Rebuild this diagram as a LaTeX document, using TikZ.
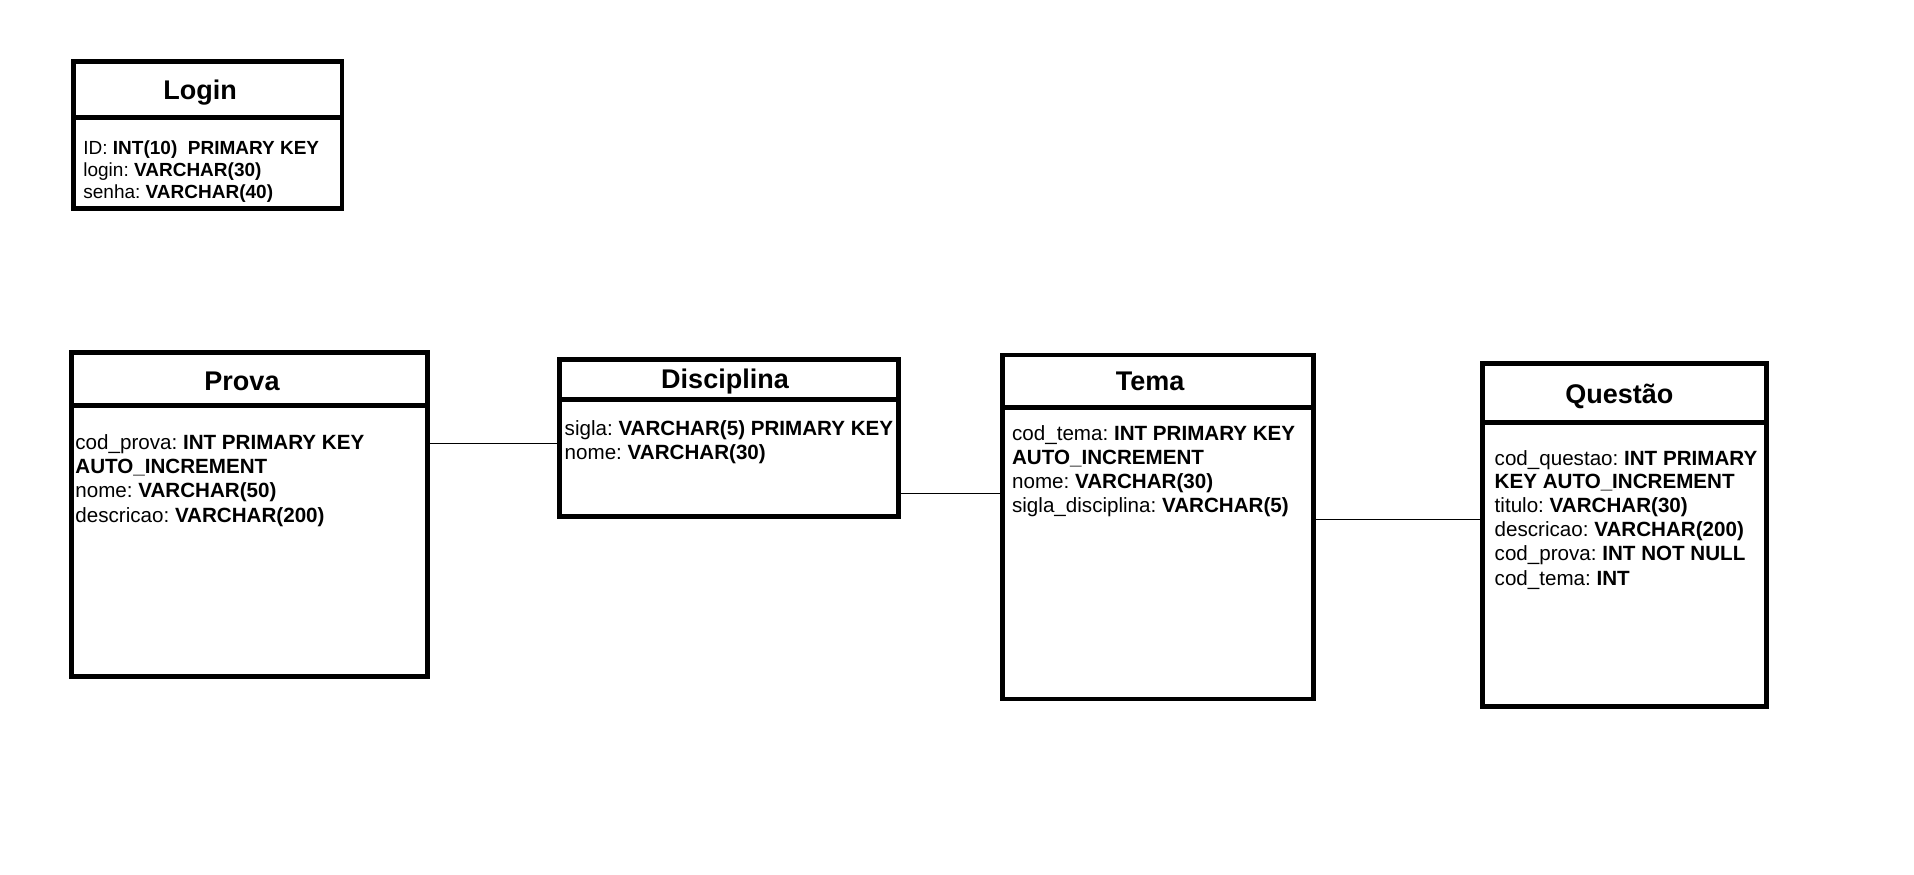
\documentclass[tikz,border=0pt]{standalone}
\usepackage{fontspec}
\setmainfont{Liberation Sans}
\frenchspacing
\begin{document}
\begin{tikzpicture}[x=0.5pt,y=-0.5pt,
  tbl/.style={draw=black, line width=2.45pt, fill=white, inner sep=0pt},
  divline/.style={draw=black, line width=2.5pt},
  ttl/.style={anchor=base, inner sep=0pt, font=\fontsize{13.5pt}{16pt}\selectfont\bfseries},
  fld/.style={anchor=base west, inner sep=0pt, font=\fontsize{10.3pt}{12pt}\selectfont},
  fldsm/.style={anchor=base west, inner sep=0pt, font=\fontsize{9.5pt}{11pt}\selectfont},
  conn/.style={draw=black, line width=0.6pt}]
\fill[white] (0,0) rectangle (1914,874);
\useasboundingbox (0,0) rectangle (1914,874);

% Login
\node[tbl, minimum width=134.25pt, minimum height=73.65pt] (login) at (207.75,135.25) {};
\draw[divline] (login.west |- 0,117.5) -- (login.east |- 0,117.5);
\node[ttl] (logint) at (200,99.3) {Login};
\node[fldsm] (login1) at (83,154) {ID: \textbf{INT(10)\ \ PRIMARY KEY}};
\node[fldsm] (login2) at (83,176) {login: \textbf{VARCHAR(30)}};
\node[fldsm] (login3) at (83,198) {senha: \textbf{VARCHAR(40)}};

% Prova
\node[tbl, minimum width=178pt, minimum height=162pt] (prova) at (249.5,514.5) {};
\draw[divline] (prova.west |- 0,405) -- (prova.east |- 0,405);
\node[ttl] (provat) at (242,390.7) {Prova};
\node[fld] (prova1) at (75,449) {cod\_prova: \textbf{INT PRIMARY KEY}};
\node[fld] (prova2) at (75,473) {\textbf{AUTO\_INCREMENT}};
\node[fld] (prova3) at (75,497) {nome: \textbf{VARCHAR(50)}};
\node[fld] (prova4) at (75,522) {descricao: \textbf{VARCHAR(200)}};

% Disciplina
\node[tbl, minimum width=169.5pt, minimum height=78.5pt] (disc) at (729,438) {};
\draw[divline] (disc.west |- 0,399.3) -- (disc.east |- 0,399.3);
\node[ttl] (disct) at (725,388) {Disciplina};
\node[fld] (disc1) at (564.3,435) {sigla: \textbf{VARCHAR(5) PRIMARY KEY}};
\node[fld] (disc2) at (564.3,459) {nome: \textbf{VARCHAR(30)}};

% Tema
\node[tbl, minimum width=155.5pt, minimum height=172pt] (tema) at (1158,527) {};
\draw[divline] (tema.west |- 0,407) -- (tema.east |- 0,407);
\node[ttl] (temat) at (1150,390.7) {Tema};
\node[fld] (tema1) at (1011.7,440.7) {cod\_tema: \textbf{INT PRIMARY KEY}};
\node[fld] (tema2) at (1011.7,464.7) {\textbf{AUTO\_INCREMENT}};
\node[fld] (tema3) at (1011.7,488.7) {nome: \textbf{VARCHAR(30)}};
\node[fld] (tema4) at (1011.7,512.7) {sigla\_disciplina: \textbf{VARCHAR(5)}};

% Questao
\node[tbl, minimum width=142pt, minimum height=171.5pt] (quest) at (1624.5,535) {};
\draw[divline] (quest.west |- 0,422.5) -- (quest.east |- 0,422.5);
\node[ttl] (questt) at (1619.3,403.3) {Questão};
\node[fld] (quest1) at (1494.3,465) {cod\_questao: \textbf{INT PRIMARY}};
\node[fld] (quest2) at (1494.3,488.3) {\textbf{KEY AUTO\_INCREMENT}};
\node[fld] (quest3) at (1494.3,512.7) {titulo: \textbf{VARCHAR(30)}};
\node[fld] (quest4) at (1494.3,536.7) {descricao: \textbf{VARCHAR(200)}};
\node[fld] (quest5) at (1494.3,560.7) {cod\_prova: \textbf{INT NOT NULL}};
\node[fld] (quest6) at (1494.3,585) {cod\_tema: \textbf{INT}};

% connectors
\draw[conn] (prova.east |- 0,443.3) -- (disc.west |- 0,443.3);
\draw[conn] (disc.east |- 0,493.3) -- (tema.west |- 0,493.3);
\draw[conn] (tema.east |- 0,519.3) -- (quest.west |- 0,519.3);
\end{tikzpicture}
\end{document}
